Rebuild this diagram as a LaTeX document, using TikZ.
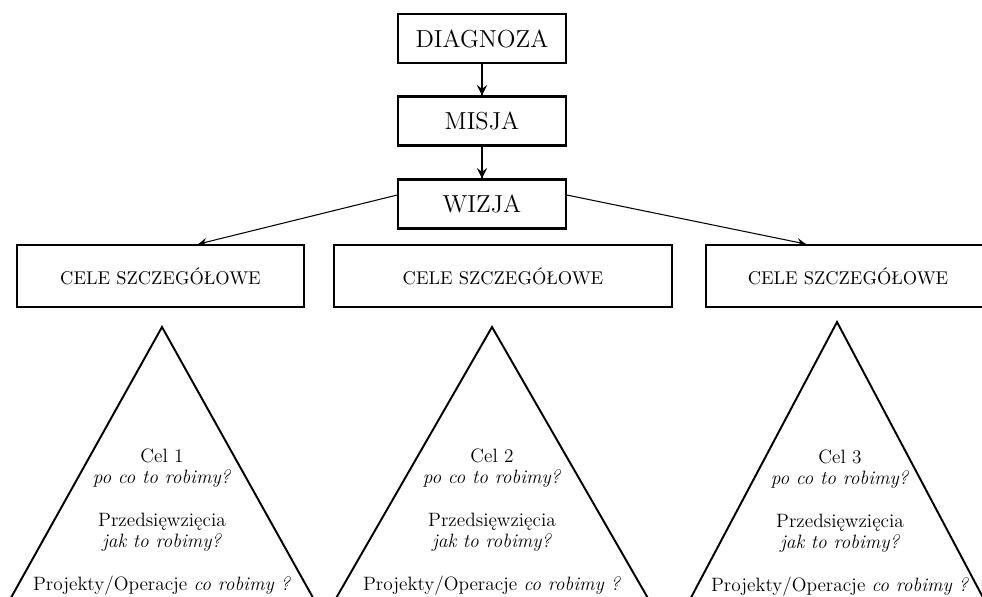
\documentclass[tikz,border=0pt]{standalone}
\usetikzlibrary{calc,decorations.markings}
\tikzset{->/.style = {decoration={markings, mark=at position 1 with {\arrow[scale=1.3]{stealth}}}, postaction={decorate}}}
\tikzset{box/.style = {draw, line width = 1.2pt, minimum width = 3.36cm, minimum height = 0.98cm, inner sep = 0, font = \fontsize{14}{16}\selectfont}}
\tikzset{cele/.style = {draw, line width = 1.2pt, minimum height = 1.24cm, inner sep = 0, font = \fontsize{10.5}{12}\selectfont}}
\tikzset{opis/.style = {align = center, inner sep = 0, font = \fontsize{11}{12}\selectfont}}

\begin{document}
\begin{tikzpicture}[x = 0.02cm, y = -0.02cm]
    \useasboundingbox (0,0) rectangle (982,596);
    \node [box] (diagnoza) at (482,38.5) {DIAGNOZA};
    \node [box] (misja) at (482,121) {MISJA};
    \node [box] (wizja) at (482,204) {WIZJA};
    \node [cele, minimum width = 5.74cm] (cele1) at (160.5,276) {CELE SZCZEGÓŁOWE};
    \node [cele, minimum width = 6.76cm] (cele2) at (503,276) {CELE SZCZEGÓŁOWE};
    \node [cele, minimum width = 5.68cm] (cele3) at (848,276) {CELE SZCZEGÓŁOWE};
    \draw [->, line width = 1pt] (diagnoza) -- (misja);
    \draw [->, line width = 1pt] (misja) -- (wizja);
    \draw [->, line width = 0.6pt] (wizja.174) -- (cele1.40);
    \draw [->, line width = 0.6pt] (wizja.6) -- (cele3.143);
    % trojkaty
    \draw [line width = 1.1pt] (-12.6,640) -- (162,327) -- (336.6,640);
    \draw [line width = 1.1pt] (312,640) -- (492,327) -- (672,640);
    \draw [line width = 1.1pt] (668.5,640) -- (837,322) -- (1005.5,640);
    \node [opis] (cel1) at (162,522) {Cel 1\\ \textit{po co to robimy?}\\[12.4pt] Przedsięwzięcia\\ \textit{jak to robimy?}\\[12.4pt] Projekty/Operacje \textit{co robimy ?}};
    \node [opis] (cel2) at (492,522) {Cel 2\\ \textit{po co to robimy?}\\[12.4pt] Przedsięwzięcia\\ \textit{jak to robimy?}\\[12.4pt] Projekty/Operacje \textit{co robimy ?}};
    \node [opis] (cel3) at (840,523) {Cel 3\\ \textit{po co to robimy?}\\[12.4pt] Przedsięwzięcia\\ \textit{jak to robimy?}\\[12.4pt] Projekty/Operacje \textit{co robimy ?}};
\end{tikzpicture}
\end{document}
